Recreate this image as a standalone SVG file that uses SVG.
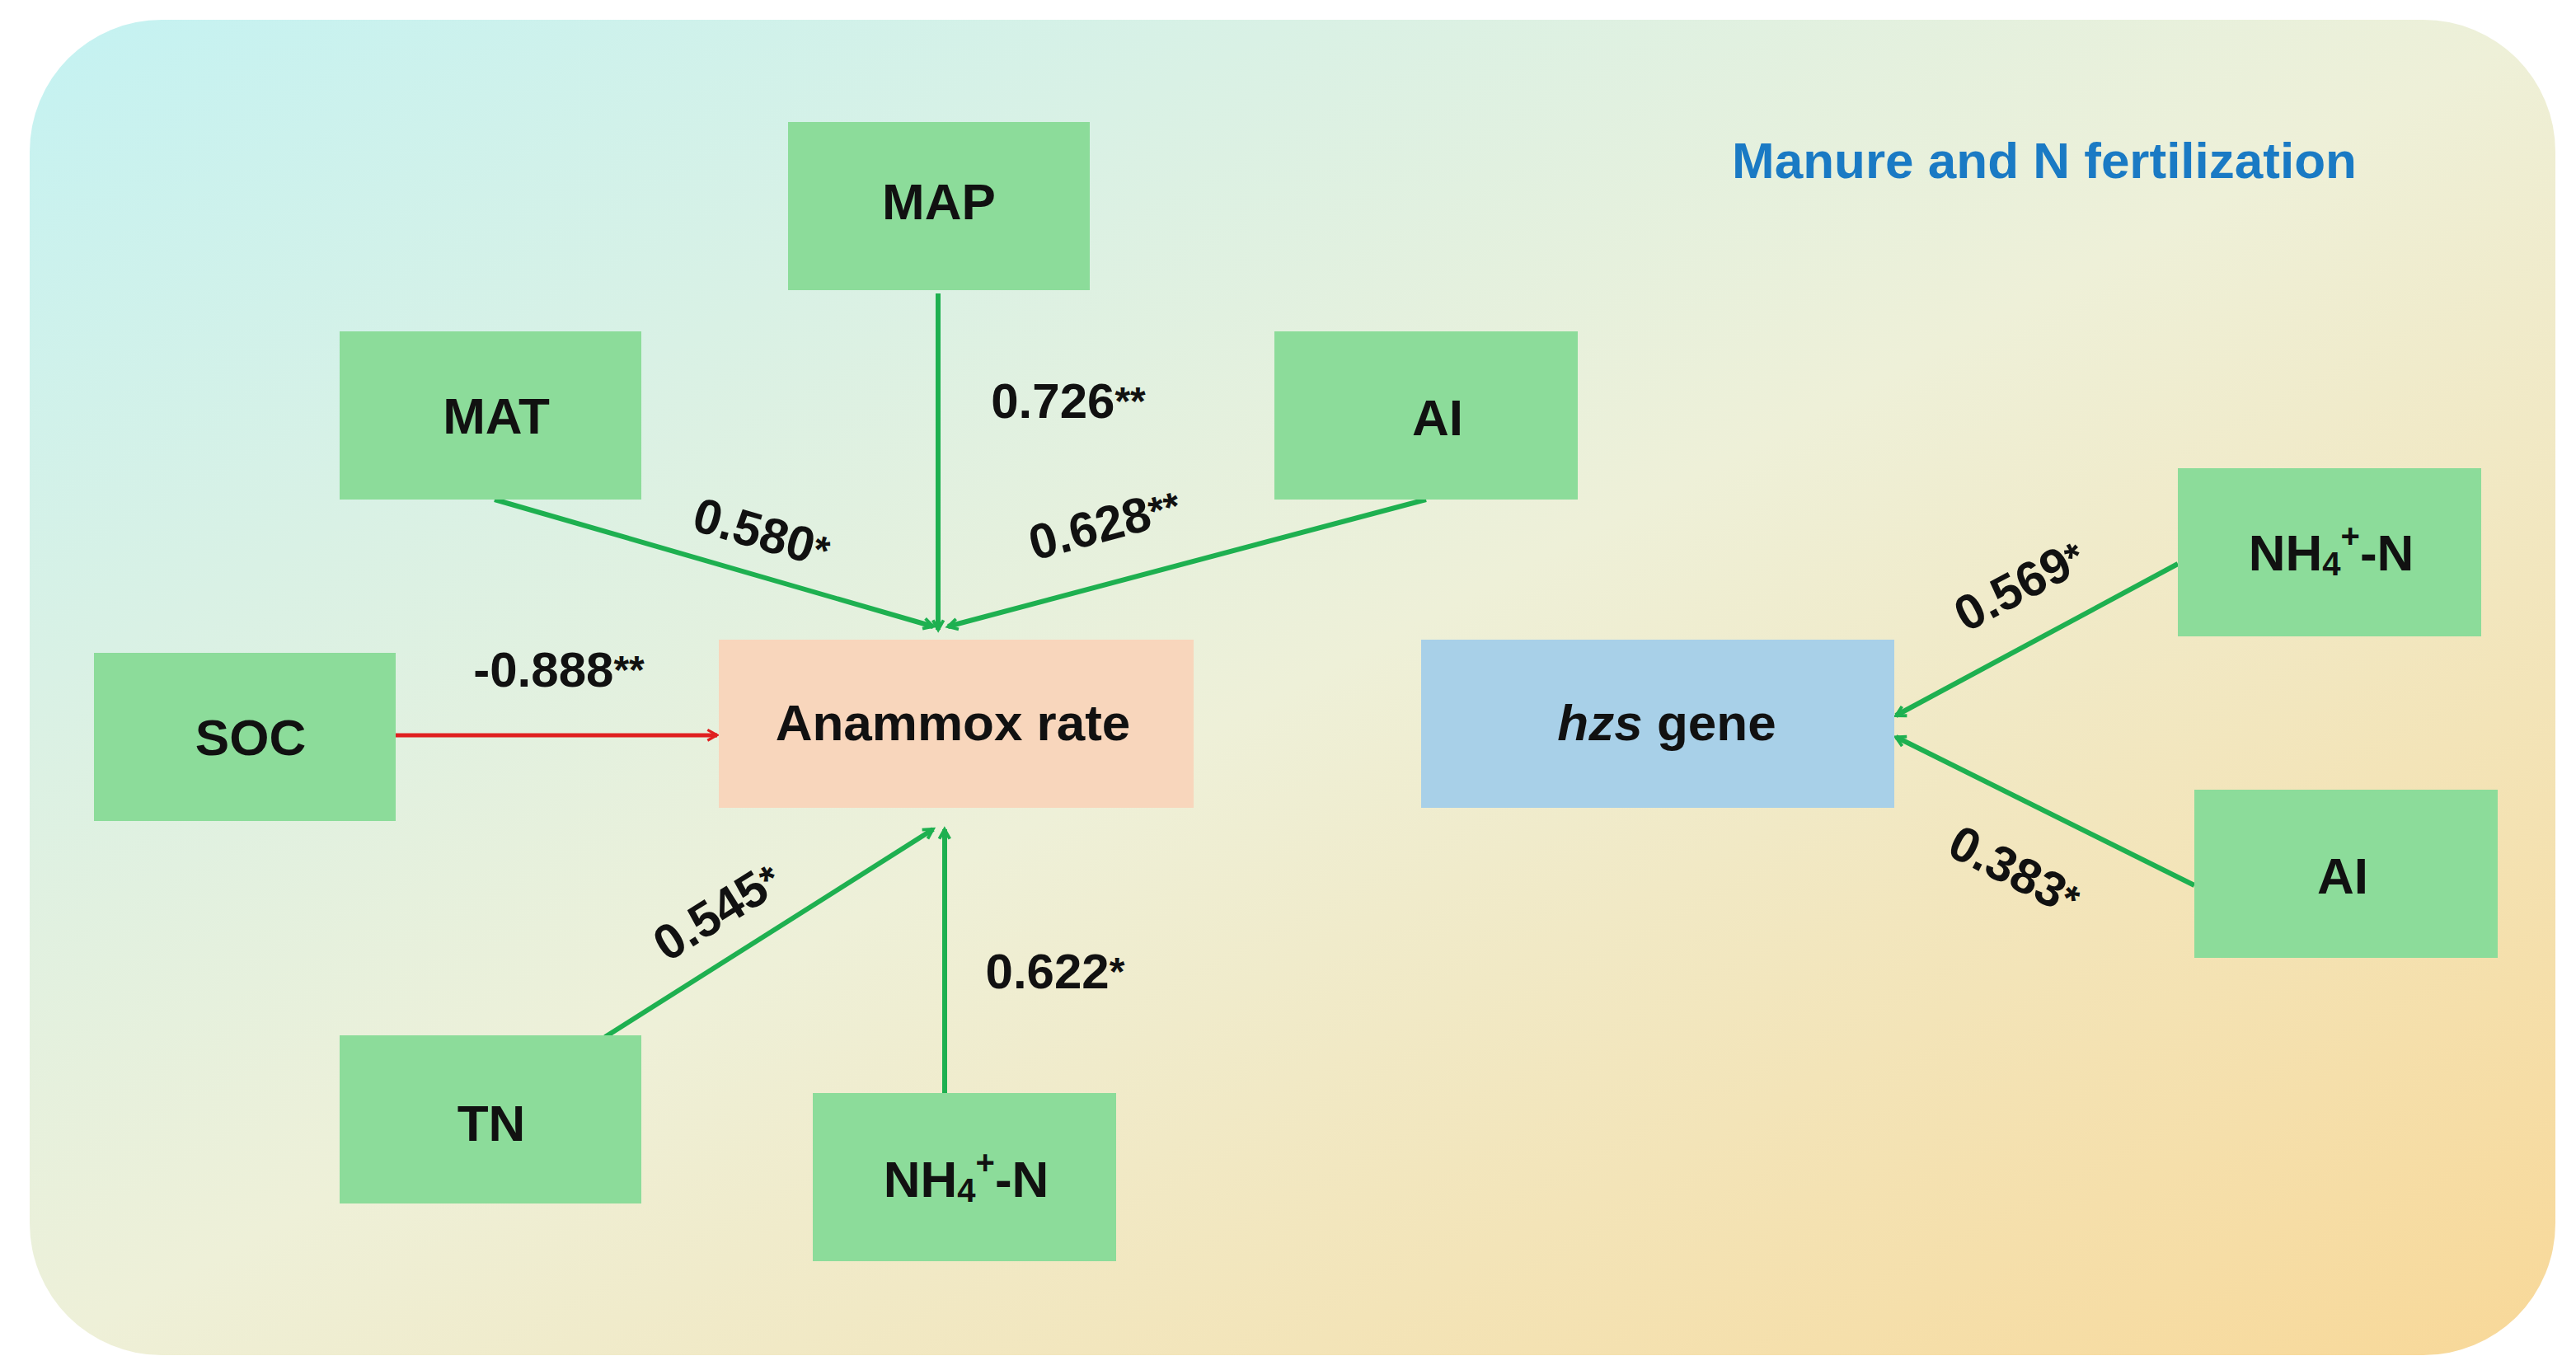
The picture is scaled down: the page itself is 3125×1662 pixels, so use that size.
<svg xmlns="http://www.w3.org/2000/svg" width="3125" height="1662" viewBox="0 0 3125 1662">
<style>
.box{fill:#8cdc9a}
.t{font-family:"Liberation Sans",Arial,sans-serif;font-weight:bold;font-size:62px;fill:#111;text-anchor:middle;dominant-baseline:central}
.l{font-family:"Liberation Sans",Arial,sans-serif;font-weight:bold;font-size:60px;fill:#111;text-anchor:middle;dominant-baseline:central}
.s{font-size:48px}
.g{stroke:#1eb050;stroke-width:6;fill:none}
.r{stroke:#e02020;stroke-width:5;fill:none}
</style>
<defs>
<linearGradient id="bg" x1="0" y1="0" x2="1" y2="1">
<stop offset="0" stop-color="#c4f2f2"/>
<stop offset="0.5" stop-color="#eef0d8"/>
<stop offset="1" stop-color="#f8d898"/>
</linearGradient>
<marker id="ag" viewBox="0 0 20 20" refX="18" refY="10" markerWidth="8" markerHeight="8" orient="auto" markerUnits="userSpaceOnUse" style="overflow:visible">
<path d="M0,0 L18,10 L0,20" stroke="#1eb050" stroke-width="6" fill="none" transform="scale(1.6) translate(-7,-4)"/>
</marker>
<marker id="ar" viewBox="0 0 20 20" refX="18" refY="10" markerWidth="8" markerHeight="8" orient="auto" markerUnits="userSpaceOnUse" style="overflow:visible">
<path d="M0,0 L18,10 L0,20" stroke="#e02020" stroke-width="5" fill="none" transform="scale(1.6) translate(-7,-4)"/>
</marker>
</defs>
<rect x="36" y="24" width="3064" height="1620" rx="160" fill="url(#bg)"/>
<text x="2480" y="194" class="t" style="fill:#1a7ac4;font-size:62px">Manure and N fertilization</text>

<g id="connectors">
<line class="g" x1="1138" y1="356" x2="1138" y2="764" marker-end="url(#ag)"/>
<line class="g" x1="600" y1="606" x2="1132" y2="760" marker-end="url(#ag)"/>
<line class="g" x1="1730" y1="606" x2="1150" y2="760" marker-end="url(#ag)"/>
<line class="r" x1="480" y1="892" x2="870" y2="892" marker-end="url(#ar)"/>
<line class="g" x1="734" y1="1258" x2="1132" y2="1006" marker-end="url(#ag)"/>
<line class="g" x1="1146" y1="1326" x2="1146" y2="1006" marker-end="url(#ag)"/>
<line class="g" x1="2642" y1="684" x2="2300" y2="868" marker-end="url(#ag)"/>
<line class="g" x1="2662" y1="1074" x2="2300" y2="894" marker-end="url(#ag)"/>
</g>

<g id="labels">
<text class="l" x="1296" y="486">0.726<tspan class="s">**</tspan></text>
<text class="l" transform="translate(924,646) rotate(16)">0.580<tspan class="s">*</tspan></text>
<text class="l" transform="translate(1340,636) rotate(-15)">0.628<tspan class="s">**</tspan></text>
<text class="l" x="678" y="812">-0.888<tspan class="s">**</tspan></text>
<text class="l" transform="translate(870,1106) rotate(-32)">0.545<tspan class="s">*</tspan></text>
<text class="l" x="1280" y="1178">0.622<tspan class="s">*</tspan></text>
<text class="l" transform="translate(2450,710) rotate(-28)">0.569<tspan class="s">*</tspan></text>
<text class="l" transform="translate(2444,1056) rotate(27)">0.383<tspan class="s">*</tspan></text>
</g>

<g id="MAP"><rect class="box" x="956" y="148" width="366" height="204"/><text class="t" x="1139" y="244">MAP</text></g>
<g id="MAT"><rect class="box" x="412" y="402" width="366" height="204"/><text class="t" x="602" y="504">MAT</text></g>
<g id="AI1"><rect class="box" x="1546" y="402" width="368" height="204"/><text class="t" x="1744" y="506">AI</text></g>
<g id="SOC"><rect class="box" x="114" y="792" width="366" height="204"/><text class="t" x="304" y="894">SOC</text></g>
<g id="Anammox"><rect x="872" y="776" width="576" height="204" fill="#f8d6bc"/><text class="t" x="1156" y="876">Anammox rate</text></g>
<g id="TN"><rect class="box" x="412" y="1256" width="366" height="204"/><text class="t" x="596" y="1362">TN</text></g>
<g id="NH4a"><rect class="box" x="986" y="1326" width="368" height="204"/><text class="t" x="1172" y="1430">NH<tspan style="font-size:40px" dy="14">4</tspan><tspan style="font-size:40px" dy="-34">+</tspan><tspan dy="20">-N</tspan></text></g>
<g id="hzs"><rect x="1724" y="776" width="574" height="204" fill="#a8d0e8"/><text class="t" x="2022" y="876"><tspan font-style="italic">hzs</tspan> gene</text></g>
<g id="NH4b"><rect class="box" x="2642" y="568" width="368" height="204"/><text class="t" x="2828" y="670">NH<tspan style="font-size:40px" dy="14">4</tspan><tspan style="font-size:40px" dy="-34">+</tspan><tspan dy="20">-N</tspan></text></g>
<g id="AI2"><rect class="box" x="2662" y="958" width="368" height="204"/><text class="t" x="2842" y="1062">AI</text></g>
</svg>
